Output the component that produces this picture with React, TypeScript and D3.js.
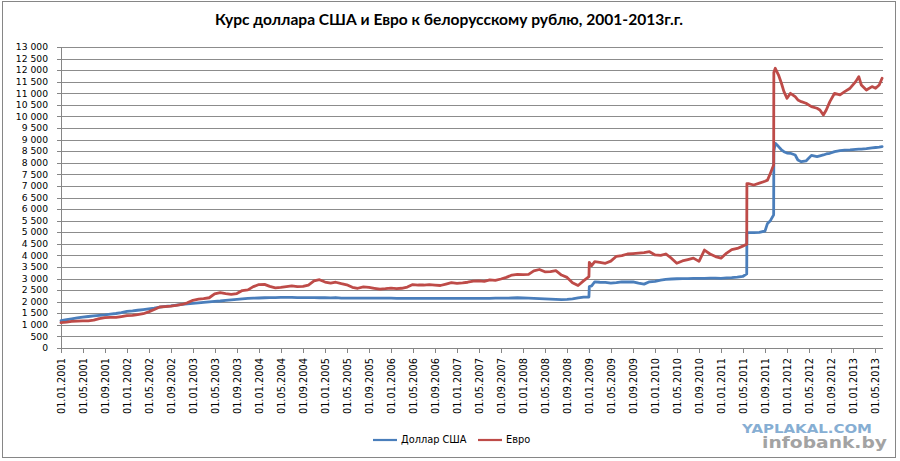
import * as d3 from "d3";

// Official rates of the National Bank of Belarus (BYR per unit)
const dates = [
  "2001-01-01", "2001-02-01", "2001-03-01", "2001-04-01", "2001-05-01", "2001-06-01", "2001-07-01", "2001-08-01", "2001-09-01", "2001-10-01", "2001-11-01", "2001-12-01",
  "2002-01-01", "2002-02-01", "2002-03-01", "2002-04-01", "2002-05-01", "2002-06-01", "2002-07-01", "2002-08-01", "2002-09-01", "2002-10-01", "2002-11-01", "2002-12-01",
  "2003-01-01", "2003-02-01", "2003-03-01", "2003-04-01", "2003-05-01", "2003-06-01", "2003-07-01", "2003-08-01", "2003-09-01", "2003-10-01", "2003-11-01", "2003-12-01",
  "2004-01-01", "2004-02-01", "2004-03-01", "2004-04-01", "2004-05-01", "2004-06-01", "2004-07-01", "2004-08-01", "2004-09-01", "2004-10-01", "2004-11-01", "2004-12-01",
  "2005-01-01", "2005-02-01", "2005-03-01", "2005-04-01", "2005-05-01", "2005-06-01", "2005-07-01", "2005-08-01", "2005-09-01", "2005-10-01", "2005-11-01", "2005-12-01",
  "2006-01-01", "2006-02-01", "2006-03-01", "2006-04-01", "2006-05-01", "2006-06-01", "2006-07-01", "2006-08-01", "2006-09-01", "2006-10-01", "2006-11-01", "2006-12-01",
  "2007-01-01", "2007-02-01", "2007-03-01", "2007-04-01", "2007-05-01", "2007-06-01", "2007-07-01", "2007-08-01", "2007-09-01", "2007-10-01", "2007-11-01", "2007-12-01",
  "2008-01-01", "2008-02-01", "2008-03-01", "2008-04-01", "2008-05-01", "2008-06-01", "2008-07-01", "2008-08-01", "2008-09-01", "2008-10-01", "2008-11-01", "2008-12-01",
  "2008-12-31", "2009-01-02", "2009-01-15",
  "2009-02-01", "2009-03-01", "2009-04-01", "2009-05-01", "2009-06-01", "2009-07-01", "2009-08-01", "2009-09-01", "2009-10-01", "2009-11-01", "2009-12-01",
  "2010-01-01", "2010-02-01", "2010-03-01", "2010-04-01", "2010-05-01", "2010-06-01", "2010-07-01", "2010-08-01", "2010-09-01", "2010-10-01", "2010-11-01", "2010-12-01",
  "2011-01-01", "2011-02-01", "2011-03-01", "2011-04-01", "2011-05-01",
  "2011-05-23", "2011-05-24",
  "2011-06-01", "2011-07-01", "2011-08-01", "2011-09-01", "2011-09-15", "2011-10-01",
  "2011-10-19", "2011-10-20", "2011-10-28",
  "2011-11-15", "2011-12-01", "2011-12-15",
  "2012-01-01", "2012-01-20", "2012-02-15", "2012-03-01", "2012-03-20", "2012-04-15", "2012-05-15", "2012-06-15",
  "2012-07-01", "2012-07-20", "2012-08-05", "2012-08-25", "2012-09-20", "2012-10-20", "2012-11-15", "2012-12-15",
  "2013-01-15", "2013-02-01", "2013-02-15", "2013-03-15", "2013-04-15", "2013-05-05", "2013-05-25", "2013-06-10",
];

const usd = [
  1180, 1220, 1260, 1300, 1330, 1360, 1390, 1410, 1430, 1460, 1490, 1530,
  1580, 1600, 1630, 1660, 1690, 1720, 1770, 1800, 1820, 1850, 1880, 1910,
  1930, 1950, 1970, 1990, 2010, 2030, 2060, 2080, 2100, 2120, 2140, 2150,
  2160, 2170, 2180, 2180, 2185, 2190, 2190, 2180, 2175, 2175, 2175, 2170,
  2170, 2165, 2180, 2155, 2150, 2150, 2150, 2150, 2150, 2150, 2150, 2150,
  2150, 2145, 2140, 2140, 2140, 2140, 2140, 2140, 2140, 2140, 2140, 2140,
  2140, 2145, 2145, 2145, 2145, 2145, 2145, 2150, 2150, 2150, 2160, 2170,
  2160, 2150, 2140, 2130, 2120, 2110, 2100, 2090, 2100, 2120, 2160, 2200,
  2200, 2650, 2680,
  2860, 2840, 2830, 2800, 2820, 2860, 2850, 2860, 2800, 2760, 2860,
  2880, 2930, 2960, 2980, 2990, 3000, 3000, 3010, 3010, 3010, 3015, 3020,
  3010, 3030, 3040, 3060, 3090,
  3200, 4950,
  4980, 4985, 4990, 5050, 5380, 5500,
  5750, 8500, 8840,
  8700, 8560, 8480,
  8420, 8410, 8337, 8120, 8048, 8080, 8320, 8265,
  8300, 8337, 8380, 8410, 8480, 8520, 8550, 8560,
  8580, 8590, 8590, 8610, 8640, 8660, 8680, 8700,
];

const eur = [
  1100, 1120, 1150, 1160, 1170, 1175, 1200, 1270, 1310, 1320, 1320, 1360,
  1400, 1410, 1440, 1480, 1560, 1660, 1770, 1790, 1810, 1840, 1880, 1950,
  2060, 2110, 2130, 2170, 2340, 2390, 2350, 2320, 2350, 2480, 2510, 2650,
  2740, 2750, 2660, 2600, 2620, 2650, 2680, 2650, 2660, 2720, 2900, 2950,
  2850, 2800, 2840, 2780, 2730, 2620, 2580, 2640, 2620, 2580, 2540, 2560,
  2590, 2560, 2580, 2630, 2740, 2720, 2720, 2740, 2720, 2700, 2760, 2820,
  2790, 2810, 2840, 2890, 2900, 2880, 2940, 2920, 2980, 3050, 3150, 3180,
  3170, 3180, 3330, 3390, 3290, 3300, 3340, 3150, 3050, 2820, 2700, 2900,
  3080, 3700, 3560,
  3730, 3700, 3660, 3750, 3960, 3990, 4060, 4080, 4100, 4120, 4160,
  4020, 4000, 4060, 3880, 3660, 3760, 3820, 3880, 3740, 4230, 4060, 3950,
  3880, 4100, 4250, 4300, 4400,
  4480, 7100,
  7100, 7040, 7120, 7200, 7250, 7550,
  7900, 11900, 12080,
  11790, 11434, 11070,
  10785, 11000, 10857, 10713, 10640, 10570, 10425, 10354,
  10280, 10065, 10280, 10640, 11000, 10930, 11070, 11220,
  11505, 11720, 11360, 11145, 11290, 11220, 11360, 11650,
];

const yTicks = [0, 500, 1000, 1500, 2000, 2500, 3000, 3500, 4000, 4500, 5000, 5500, 6000, 6500,
  7000, 7500, 8000, 8500, 9000, 9500, 10000, 10500, 11000, 11500, 12000, 12500, 13000];

const xTickLabels = [
  "01.01.2001", "01.05.2001", "01.09.2001", "01.01.2002", "01.05.2002", "01.09.2002",
  "01.01.2003", "01.05.2003", "01.09.2003", "01.01.2004", "01.05.2004", "01.09.2004",
  "01.01.2005", "01.05.2005", "01.09.2005", "01.01.2006", "01.05.2006", "01.09.2006",
  "01.01.2007", "01.05.2007", "01.09.2007", "01.01.2008", "01.05.2008", "01.09.2008",
  "01.01.2009", "01.05.2009", "01.09.2009", "01.01.2010", "01.05.2010", "01.09.2010",
  "01.01.2011", "01.05.2011", "01.09.2011", "01.01.2012", "01.05.2012", "01.09.2012",
  "01.01.2013", "01.05.2013",
];

const seriesNames = ["Доллар США", "Евро"];
const seriesColors = ["#4a7ebb", "#be4b48"];

const W = 900;
const H = 461;
const plot = { left: 61, right: 883, top: 47, bottom: 348 };

const parseDay = d3.timeParse("%Y-%m-%d");
const parseTick = d3.timeParse("%d.%m.%Y");

// "13 000" style labels like the Russian Excel locale
const fmtY = (v: number) =>
  v >= 1000 ? `${Math.floor(v / 1000)}\u00a0${String(v % 1000).padStart(3, "0")}` : String(v);

export default function App() {
  const days = dates.map((d) => parseDay(d) as Date);

  const x = d3
    .scaleTime()
    .domain([parseDay("2001-01-01") as Date, parseDay("2013-06-15") as Date])
    .range([plot.left, plot.right]);
  const y = d3.scaleLinear().domain([0, 13000]).range([plot.bottom, plot.top]);

  const line = d3
    .line<number>()
    .x((_, i) => x(days[i]))
    .y((v) => y(v));

  const axisFont = "'DejaVu Sans', Verdana, sans-serif";

  return (
    <div style={{ position: "fixed", left: 0, top: 0 }}>
      <svg width={W} height={H} viewBox={`0 0 ${W} ${H}`} style={{ display: "block", background: "#fff" }}>
        <rect x={2.5} y={1.5} width={893} height={456} fill="#fff" stroke="#868686" strokeWidth={1} />

        <text
          x={449}
          y={25}
          textAnchor="middle"
          fontFamily="Lato, 'Open Sans', sans-serif"
          fontWeight="bold"
          fontSize={15}
          fill="#000"
          textLength={468}
          lengthAdjust="spacingAndGlyphs"
        >
          Курс доллара США и Евро к белорусскому рублю, 2001-2013г.г.
        </text>

        {/* horizontal gridlines + y ticks */}
        {yTicks.map((t) => (
          <g key={t}>
            {t > 0 && (
              <line x1={plot.left} x2={plot.right} y1={Math.round(y(t)) + 0.5} y2={Math.round(y(t)) + 0.5} stroke="#8c8c8c" strokeWidth={1} />
            )}
            <line x1={plot.left - 4} x2={plot.left} y1={Math.round(y(t)) + 0.5} y2={Math.round(y(t)) + 0.5} stroke="#868686" />
            <text
              x={48}
              y={y(t)}
              dy="0.35em"
              textAnchor="end"
              fontFamily={axisFont}
              fontSize={9.2}
              fill="#000"
            >
              {fmtY(t)}
            </text>
          </g>
        ))}

        {/* axes */}
        <line x1={plot.left + 0.5} x2={plot.left + 0.5} y1={plot.top} y2={plot.bottom} stroke="#868686" />
        <line x1={plot.left} x2={plot.right} y1={plot.bottom + 0.5} y2={plot.bottom + 0.5} stroke="#868686" />

        {xTickLabels.map((lbl) => {
          const tx = Math.round(x(parseTick(lbl) as Date)) + 0.5;
          return (
            <g key={lbl}>
              <line x1={tx} x2={tx} y1={plot.bottom} y2={plot.bottom + 5} stroke="#868686" />
              <text
                transform={`translate(${tx},358) rotate(-90)`}
                dy="0.35em"
                textAnchor="end"
                fontFamily={axisFont}
                fontSize={9.8}
                fill="#000"
              >
                {lbl}
              </text>
            </g>
          );
        })}

        {/* series */}
        {[usd, eur].map((vals, i) => (
          <path
            key={seriesNames[i]}
            d={line(vals) ?? ""}
            fill="none"
            stroke={seriesColors[i]}
            strokeWidth={2.8}
            strokeLinejoin="round"
            strokeLinecap="round"
          />
        ))}

        {/* legend */}
        {seriesNames.map((name, i) => {
          const lx = i === 0 ? 373 : 478;
          return (
            <g key={name}>
              <line x1={lx} x2={lx + 24} y1={440} y2={440} stroke={seriesColors[i]} strokeWidth={2.2} />
              <text x={lx + 28} y={440} dy="0.35em" fontFamily={axisFont} fontSize={9.8} fill="#000">
                {name}
              </text>
            </g>
          );
        })}

        {/* watermark */}
        <text
          x={742}
          y={433}
          fontFamily="'DejaVu Sans', sans-serif"
          fontWeight="bold"
          fontSize={12.5}
          fill="#86aed3"
          textLength={130}
          lengthAdjust="spacingAndGlyphs"
        >
          YAPLAKAL.COM
        </text>
        <text
          x={762}
          y={448}
          fontFamily="'DejaVu Sans', sans-serif"
          fontWeight="bold"
          fontSize={16.5}
          fill="#a3a3a3"
          textLength={125}
          lengthAdjust="spacingAndGlyphs"
        >
          infobank.by
        </text>
      </svg>
    </div>
  );
}
